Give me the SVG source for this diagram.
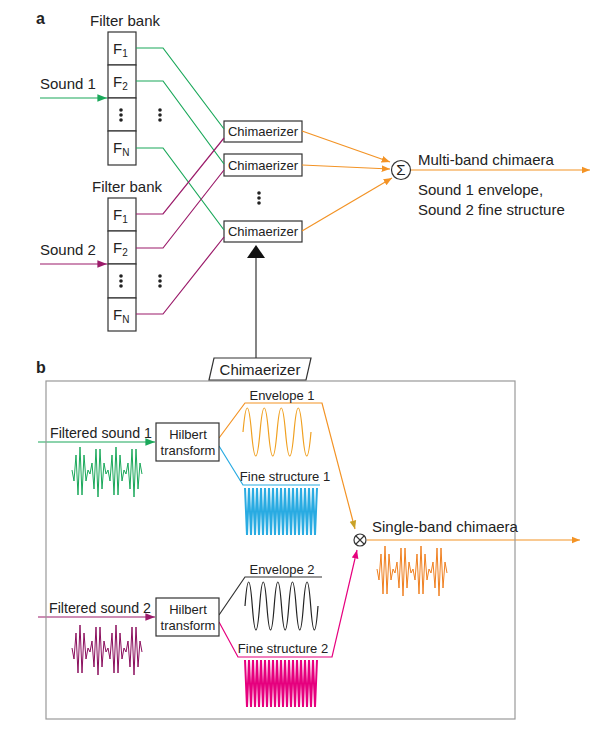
<svg xmlns="http://www.w3.org/2000/svg" width="614" height="732" viewBox="0 0 614 732">
<style>
text{font-family:"Liberation Sans",Arial,sans-serif;font-size:15px;fill:#222}
.s{font-size:10px}
.c{font-size:13px}
.box{fill:#fff;stroke:#333;stroke-width:1.2}
.ln{fill:none;stroke-width:1.2}
.g{stroke:#1aa85a}.p{stroke:#9b1b6a}.o{stroke:#f39325}.b{stroke:#29abe2}.k{stroke:#333}.m{stroke:#e6007e}
.lab{font-weight:bold;font-size:16px}
</style>
<defs>
<marker id="ag" viewBox="0 0 10 10" refX="10" refY="5" markerWidth="8" markerHeight="8" orient="auto"><path d="M0,1L10,5L0,9z" fill="#1aa85a"/></marker>
<marker id="ap" viewBox="0 0 10 10" refX="10" refY="5" markerWidth="8" markerHeight="8" orient="auto"><path d="M0,1L10,5L0,9z" fill="#9b1b6a"/></marker>
<marker id="ao" viewBox="0 0 10 10" refX="10" refY="5" markerWidth="7" markerHeight="7" orient="auto"><path d="M0,1L10,5L0,9z" fill="#f39325"/></marker>
<marker id="ay" viewBox="0 0 10 10" refX="10" refY="5" markerWidth="7" markerHeight="7" orient="auto"><path d="M0,1L10,5L0,9z" fill="#c9a227"/></marker>
<marker id="am" viewBox="0 0 10 10" refX="10" refY="5" markerWidth="7" markerHeight="7" orient="auto"><path d="M0,1L10,5L0,9z" fill="#e6007e"/></marker>
<path id="burst" fill="none" stroke-width="1" d="M72,470 74,481 76,455 78,495 80,447 82,495 84,455 86,481 88,470 90,474 92,463 94,489 96,449 98,497 100,449 102,489 104,463 106,474 108,470 110,481 112,455 114,495 116,447 118,495 120,455 122,481 124,470 126,474 128,463 130,489 132,449 134,497 136,449 138,489 140,463 142,474"/>
<path id="fine" fill="none" stroke-width="1" d="M245,488 l1,47 l1,-47 l1,47 l1,-47 l1,47 l1,-47 l1,47 l1,-47 l1,47 l1,-47 l1,47 l1,-47 l1,47 l1,-47 l1,47 l1,-47 l1,47 l1,-47 l1,47 l1,-47 l1,47 l1,-47 l1,47 l1,-47 l1,47 l1,-47 l1,47 l1,-47 l1,47 l1,-47 l1,47 l1,-47 l1,47 l1,-47 l1,47 l1,-47" transform="matrix(2,0,0,1,-245,0)"/>
</defs>
<rect width="614" height="732" fill="#fff"/>
<text x="36" y="24" class="lab">a</text>
<text x="36" y="373" class="lab">b</text>

<g id="fb1">
<text x="90" y="26">Filter bank</text>
<rect class="box" x="108" y="32" width="28" height="33"/><rect class="box" x="108" y="65" width="28" height="33"/><rect class="box" x="108" y="98" width="28" height="33"/><rect class="box" x="108" y="131" width="28" height="34"/>
<text x="113" y="54">F<tspan class="s" dy="3">1</tspan></text>
<text x="113" y="87">F<tspan class="s" dy="3">2</tspan></text>
<text x="113" y="153">F<tspan class="s" dy="3">N</tspan></text>
<g fill="#222"><circle cx="121" cy="110" r="1.8"/><circle cx="121" cy="115" r="1.8"/><circle cx="121" cy="120" r="1.8"/><circle cx="160" cy="110" r="1.8"/><circle cx="160" cy="115" r="1.8"/><circle cx="160" cy="120" r="1.8"/></g>
</g>
<g id="fb2">
<text x="92" y="192">Filter bank</text>
<rect class="box" x="108" y="198" width="28" height="33"/><rect class="box" x="108" y="231" width="28" height="33"/><rect class="box" x="108" y="264" width="28" height="34"/><rect class="box" x="108" y="298" width="28" height="33"/>
<text x="113" y="220">F<tspan class="s" dy="3">1</tspan></text>
<text x="113" y="253">F<tspan class="s" dy="3">2</tspan></text>
<text x="113" y="320">F<tspan class="s" dy="3">N</tspan></text>
<g fill="#222"><circle cx="121" cy="276" r="1.8"/><circle cx="121" cy="281" r="1.8"/><circle cx="121" cy="286" r="1.8"/><circle cx="160" cy="276" r="1.8"/><circle cx="160" cy="281" r="1.8"/><circle cx="160" cy="286" r="1.8"/></g>
</g>
<g id="chim">
<rect class="box" x="224" y="121" width="78" height="21"/><text x="263" y="136" text-anchor="middle" class="c">Chimaerizer</text>
<rect class="box" x="224" y="154" width="78" height="22"/><text x="263" y="170" text-anchor="middle" class="c">Chimaerizer</text>
<rect class="box" x="224" y="221" width="78" height="21"/><text x="263" y="236" text-anchor="middle" class="c">Chimaerizer</text>
<g fill="#222"><circle cx="259" cy="193" r="1.8"/><circle cx="259" cy="198" r="1.8"/><circle cx="259" cy="203" r="1.8"/></g>
<path d="M256,245 L265,258 L247,258z" fill="#111"/>
</g>
<g id="sum"><circle cx="401" cy="170" r="9.5" fill="#fff" stroke="#333" stroke-width="1.2"/><text x="401" y="175" text-anchor="middle" font-size="13">Σ</text>
<text x="418" y="165">Multi-band chimaera</text><text x="418" y="195">Sound 1 envelope,</text><text x="418" y="215">Sound 2 fine structure</text></g>
<g id="snd"><text x="40" y="89">Sound 1</text><text x="40" y="255">Sound 2</text></g>

<g id="connectors">
<path class="ln g" d="M40,98H107" marker-end="url(#ag)"/>
<path class="ln p" d="M40,264H107" marker-end="url(#ap)"/>
<path class="ln g" d="M136,48H163L224,129M136,81H163L224,164M136,148H163L224,230"/>
<path class="ln p" d="M136,214H163L224,138M136,248H163L224,170M136,314H163L224,237"/>
<path class="ln o" d="M302,131L390,162" marker-end="url(#ao)"/>
<path class="ln o" d="M302,165L390,169" marker-end="url(#ao)"/>
<path class="ln o" d="M302,231L392,178" marker-end="url(#ao)"/>
<path class="ln o" d="M411,170H590" marker-end="url(#ao)"/>
<path class="ln k" d="M256,258V358"/>
<path class="ln g" d="M38,442H155" marker-end="url(#ag)"/>
<path class="ln p" d="M38,617H155" marker-end="url(#ap)"/>
<path class="ln o" d="M219,438L245,403H322L355,529" stroke="#f0a020" marker-end="url(#ay)"/>
<path class="ln b" d="M219,446L243,485H320"/>
<path class="ln k" d="M219,615L245,577H322"/>
<path class="ln m" d="M219,622L238,657H332L357,550" marker-end="url(#am)"/>
<path class="ln o" d="M367,540H580" marker-end="url(#ao)"/>
</g>

<g id="panelb">
<rect x="46" y="381" width="469" height="338" fill="none" stroke="#999" stroke-width="1.2"/>
<path d="M214,358H311L306,380H209z" fill="#fff" stroke="#333" stroke-width="1.2"/>
<text x="260" y="375" text-anchor="middle" font-size="15">Chimaerizer</text>
<text x="50" y="438" font-size="14" textLength="102" lengthAdjust="spacingAndGlyphs">Filtered sound 1</text>
<text x="49" y="613" font-size="14" textLength="102" lengthAdjust="spacingAndGlyphs">Filtered sound 2</text>
<rect class="box" x="156" y="423" width="63" height="38"/><text x="188" y="439" text-anchor="middle" class="c">Hilbert</text><text x="188" y="455" text-anchor="middle" class="c">transform</text>
<rect class="box" x="156" y="598" width="63" height="38"/><text x="188" y="614" text-anchor="middle" class="c">Hilbert</text><text x="188" y="630" text-anchor="middle" class="c">transform</text>
<text x="282" y="400" text-anchor="middle" class="c">Envelope 1</text>
<text x="285" y="481" text-anchor="middle" class="c">Fine structure 1</text>
<text x="282" y="574" text-anchor="middle" class="c">Envelope 2</text>
<text x="283" y="653" text-anchor="middle" class="c">Fine structure 2</text>
<circle cx="360" cy="540" r="6" fill="#fff" stroke="#333" stroke-width="1.2"/>
<path d="M356,536L364,544M364,536L356,544" stroke="#333" stroke-width="1.1"/>
<text x="372" y="532">Single-band chimaera</text>
<use href="#burst" stroke="#1aa85a"/>
<use href="#burst" stroke="#8b0f5e" transform="translate(0,178)"/>
<use href="#burst" stroke="#f08020" transform="translate(305,99)"/>
<path class="ln" stroke="#f0a020" d="M243,432 q4.25,-48 8.5,0 t8.5,0 t8.5,0 t8.5,0 t8.5,0 t8.5,0 t8.5,0 t8.5,0"/>
<path class="ln" stroke="#222" d="M245,606 q3.65,-48 7.3,0 t7.3,0 t7.3,0 t7.3,0 t7.3,0 t7.3,0 t7.3,0 t7.3,0 t7.3,0 t7.3,0"/>
<use href="#fine" stroke="#29abe2"/>
<use href="#fine" stroke="#e6007e" transform="translate(0,172)"/>
</g>
</svg>
